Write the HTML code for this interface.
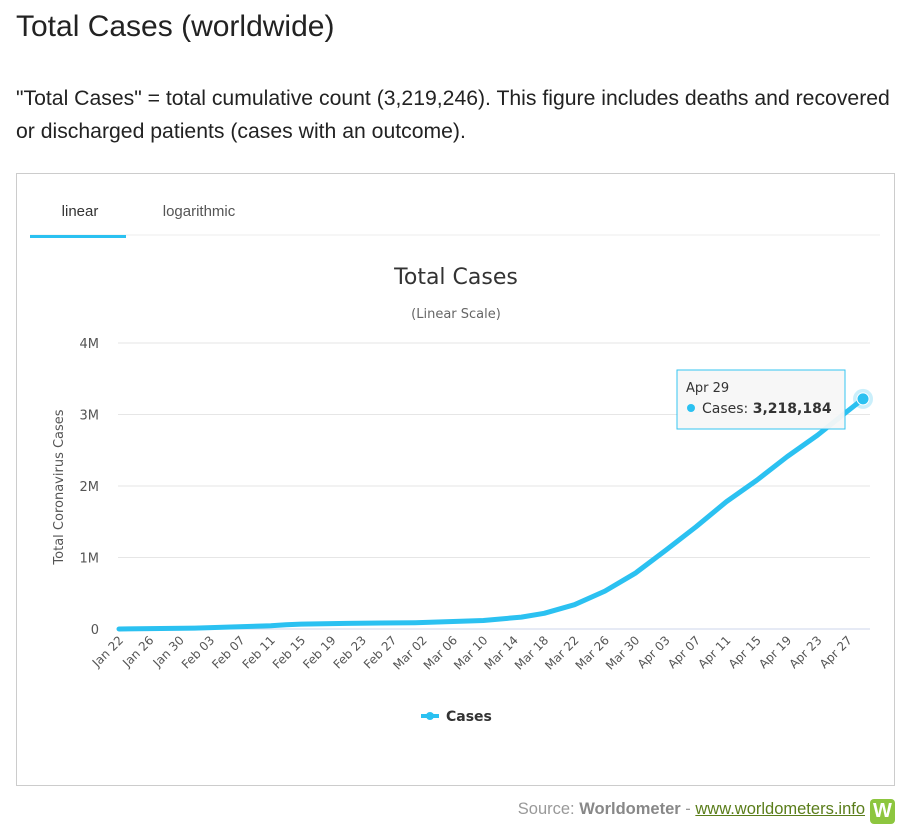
<!DOCTYPE html>
<html><head><meta charset="utf-8"><style>
body{margin:0;background:#fff;font-family:"Liberation Sans",Arial,sans-serif;width:911px;height:836px;overflow:hidden;position:relative}
h1{position:absolute;left:16px;top:10px;margin:0;font-weight:normal;font-size:30px;color:#222}
p{position:absolute;left:16px;top:82px;margin:0;font-size:21.2px;line-height:33px;color:#222;width:895px;white-space:nowrap}
.box{position:absolute;left:16px;top:173px;width:877px;height:611px;border:1px solid #ccc}
.src{position:absolute;right:46px;top:800px;font-size:16.5px;color:#999}
.src b{color:#888}.src u{color:#5a7d1a}
.logo{position:absolute;left:870px;top:799px;width:25px;height:25px;background:#8dc63f;border-radius:4px;color:#fff;font-weight:bold;font-size:20px;text-align:center;line-height:25px}
</style></head><body>
<h1>Total Cases (worldwide)</h1>
<p>"Total Cases" = total cumulative count (3,219,246). This figure includes deaths and recovered<br>or discharged patients (cases with an outcome).</p>
<div class="box"></div>
<svg width="911" height="836" style="position:absolute;left:0;top:0" id="s" font-family="'DejaVu Sans',sans-serif">
<text x="80" y="216" font-size="15" fill="#333" text-anchor="middle" font-family="Liberation Sans">linear</text>
<text x="199" y="216" font-size="15" fill="#555" text-anchor="middle" font-family="Liberation Sans">logarithmic</text>
<line x1="30" y1="235" x2="880" y2="235" stroke="#eee"/>
<rect x="30" y="235" width="96" height="3" fill="#2bc1f1"/>
<text x="456" y="284" font-size="22" fill="#333" text-anchor="middle">Total Cases</text>
<text x="456" y="318" font-size="13" fill="#666" text-anchor="middle">(Linear Scale)</text>
<text transform="translate(63,487) rotate(-90)" font-size="13" fill="#555" text-anchor="middle">Total Coronavirus Cases</text>
<g id="g"></g>
<g stroke="#2bc1f1" stroke-width="4"><line x1="421" y1="716" x2="439" y2="716"/></g>
<circle cx="430" cy="716" r="4" fill="#2bc1f1"/>
<text x="446" y="721" font-size="14" font-weight="bold" fill="#333">Cases</text>
</svg>
<div class="src">Source: <b>Worldometer</b> - <u>www.worldometers.info</u></div>
<div class="logo">W</div>
<script>
var g=document.getElementById('g'),h='';
var y0=629,k=71.5;
for(var i=0;i<=4;i++){var y=y0-k*i;h+='<line x1="118" y1="'+y+'" x2="870" y2="'+y+'" stroke="'+(i?'#e6e6e6':'#ccd6eb')+'"/>';
h+='<text x="99" y="'+(y+5)+'" font-size="13" fill="#555" text-anchor="end">'+(i?i+'M':'0')+'</text>';}
var L=['Jan 22','Jan 26','Jan 30','Feb 03','Feb 07','Feb 11','Feb 15','Feb 19','Feb 23','Feb 27','Mar 02','Mar 06','Mar 10','Mar 14','Mar 18','Mar 22','Mar 26','Mar 30','Apr 03','Apr 07','Apr 11','Apr 15','Apr 19','Apr 23','Apr 27'];
var px=7.592;
L.forEach(function(t,j){var x=119+px*4*j+5;h+='<text transform="translate('+x+',641) rotate(-45)" font-size="12" fill="#555" text-anchor="end">'+t+'</text>';});
var D=[[0,.0006],[10,.012],[20,.045],[22,.06],[24,.069],[30,.078],[39,.088],[48,.119],[53,.167],[56,.22],[60,.34],[64,.53],[68,.78],[72,1.1],[76,1.43],[80,1.78],[84,2.08],[88,2.41],[92,2.71],[96,3.05],[98,3.218]];
var d='';D.forEach(function(p,j){d+=(j?'L':'M')+(119+px*p[0]).toFixed(1)+','+(y0-k*p[1]).toFixed(1);});
h+='<path d="'+d+'" fill="none" stroke="#2bc1f1" stroke-width="5" stroke-linejoin="round" stroke-linecap="round"/>';
var ex=119+px*98,ey=y0-k*3.218;
h+='<circle cx="'+ex+'" cy="'+ey+'" r="10" fill="#2bc1f1" opacity=".25"/><circle cx="'+ex+'" cy="'+ey+'" r="6" fill="#2bc1f1" stroke="#fff" stroke-width="1"/>';
h+='<rect x="677" y="370" width="168" height="59" fill="#f7f7f7" stroke="#2bc1f1" opacity=".95"/>';
h+='<text x="686" y="392" font-size="13" fill="#333">Apr 29</text><circle cx="691" cy="408" r="4" fill="#2bc1f1"/>';
h+='<text x="702" y="413" font-size="14" fill="#333">Cases: <tspan font-weight="bold">3,218,184</tspan></text>';
g.innerHTML=h;
</script>
</body></html>
